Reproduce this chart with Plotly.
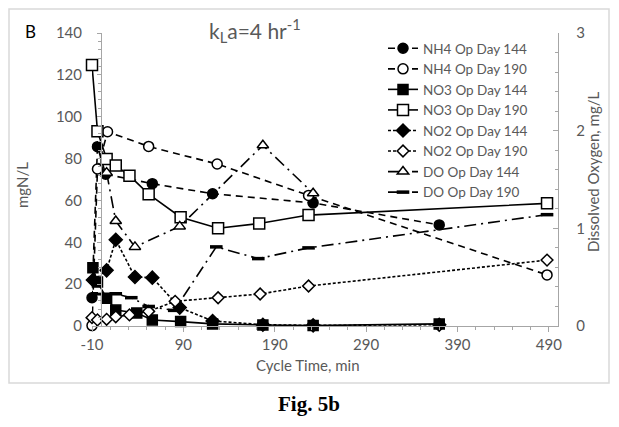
import plotly.graph_objects as go

# ---------------- data ----------------
nh4_144_t = [-10, -4, 5, 56, 122, 232, 370]
nh4_144_v = [13.5, 85.7, 72.5, 68.0, 63.2, 58.8, 48.3]

nh4_190_t = [-10, -4, 7, 52, 127, 227, 488]
nh4_190_v = [0.2, 75.0, 92.8, 85.8, 77.4, 62.4, 24.4]

no3_144_t = [-9, -4, 6, 16, 39, 56, 87, 122, 177, 232, 370]
no3_144_v = [27.8, 21.0, 13.3, 7.6, 6.2, 2.9, 2.1, 1.0, 0.5, 0.2, 1.0]

no3_190_t = [-10, -4, 6, 16, 31, 52, 87, 128, 173, 227, 488]
no3_190_v = [124.7, 93.0, 79.8, 76.7, 71.8, 63.0, 52.0, 46.7, 49.0, 53.0, 58.6]

no2_144_t = [-9, 6, 16, 37, 56, 86, 122, 177, 232, 370]
no2_144_v = [22.0, 26.6, 41.2, 23.4, 23.1, 8.8, 2.4, 0.6, 0.3, 0.6]

no2_190_t = [-10, -4, 6, 16, 31, 52, 81, 128, 174, 227, 488]
no2_190_v = [4.0, 2.9, 3.2, 4.4, 5.3, 7.0, 11.8, 13.5, 15.3, 19.1, 31.5]

do_144_t = [6, 16, 37, 86, 177, 232]
do_144_v = [1.57, 1.075, 0.81, 1.02, 1.85, 1.36]

do_190_t = [-4, 16, 33, 52, 80, 126, 172, 227, 488]
do_190_v = [0.33, 0.33, 0.29, 0.20, 0.16, 0.81, 0.69, 0.80, 1.14]

x_ticks = [-10, 90, 190, 290, 390, 490]
y_left_ticks = [0, 20, 40, 60, 80, 100, 120, 140]
y_right_ticks = [0, 1, 2, 3]

# ---------------- layout geometry ----------------
OFF = 8                      # page body margin of the html page
W, H = 619 - OFF, 427 - OFF
L, T = 92 - OFF, 33 - OFF
R = W - (558 - OFF)
B = H - (326 - OFF)
PW, PH = W - L - R, H - T - B


def px(xpix):
    return (xpix - OFF - L) / PW


def py(ypix):
    return (H - B - (ypix - OFF)) / PH


FONT = "Lato"
GREY = "#595959"
AXC = "#a6a6a6"
BLK = "black"

fig = go.Figure()


def add(name, t, v, symbol, dash, filled, size, yaxis="y", mline=1.5):
    fig.add_trace(go.Scatter(
        x=t, y=v, name=name, mode="lines+markers", yaxis=yaxis, cliponaxis=False,
        line=dict(color=BLK, width=1.6, dash=dash),
        marker=dict(symbol=symbol, size=size,
                    color=BLK if filled else "white",
                    line=dict(color=BLK, width=mline)),
    ))


DASH_NH4 = "7px,5px"
DASH_NO2 = "3px,2px"
DASH_DO = "12px,5px,2px,5px"

add("NH4 Op Day 144", nh4_144_t, nh4_144_v, "circle", DASH_NH4, True, 10)
add("NH4 Op Day 190", nh4_190_t, nh4_190_v, "circle", DASH_NH4, False, 10)
add("NO3 Op Day 144", no3_144_t, no3_144_v, "square", "solid", True, 10)
add("NO3 Op Day 190", no3_190_t, no3_190_v, "square", "solid", False, 11)
add("NO2 Op Day 144", no2_144_t, no2_144_v, "diamond", DASH_NO2, True, 10)
add("NO2 Op Day 190", no2_190_t, no2_190_v, "diamond", DASH_NO2, False, 9)
add("DO Op Day 144", do_144_t, do_144_v, "triangle-up", DASH_DO, False, 10, yaxis="y2")
add("DO Op Day 190", do_190_t, do_190_v, "line-ew", DASH_DO, False, 9, yaxis="y2", mline=3.5)

tickfont = dict(family=FONT, size=15, color=GREY)

fig.update_layout(
    width=W, height=H,
    margin=dict(l=L, r=R, t=T, b=B),
    paper_bgcolor="white", plot_bgcolor="white",
    font=dict(family=FONT, size=15, color=GREY),
    showlegend=True,
    legend=dict(x=px(383), y=py(33), xanchor="left", yanchor="top",
                bgcolor="rgba(0,0,0,0)", font=dict(family=FONT, size=13.5, color=GREY),
                tracegroupgap=0, itemwidth=30),
    xaxis=dict(range=[-10, 500], tickvals=x_ticks, ticktext=[str(v) for v in x_ticks],
               showgrid=False, zeroline=False, showline=True, linecolor=AXC, linewidth=1.3,
               ticks="outside", ticklen=5, tickcolor=AXC, tickfont=tickfont,
               minor=dict(tickvals=list(range(-10, 501, 20)), ticks="outside", ticklen=3, tickcolor=AXC),
               domain=[0, 1]),
    yaxis=dict(range=[0, 140], tickvals=y_left_ticks, showgrid=False, zeroline=False,
               showline=True, linecolor=AXC, linewidth=1.3,
               anchor="free", position=10 / 510,
               ticks="outside", ticklen=4, tickcolor=AXC, tickfont=tickfont,
               ticklabelstandoff=12,
               minor=dict(dtick=4, ticks="outside", ticklen=3, tickcolor=AXC)),
    yaxis3=dict(range=[0, 140], tickvals=y_left_ticks, overlaying="y", showgrid=False,
                zeroline=False, showline=False, showticklabels=False,
                anchor="free", position=10 / 510,
                ticks="inside", ticklen=4, tickcolor=AXC,
                minor=dict(dtick=4, ticks="inside", ticklen=3, tickcolor=AXC)),
    yaxis2=dict(range=[0, 3], tickvals=y_right_ticks, overlaying="y", side="right",
                anchor="x", showgrid=False, zeroline=False, showline=True,
                linecolor=AXC, linewidth=1.3, ticks="inside", ticklen=5, tickcolor=AXC,
                tickfont=tickfont, ticklabelstandoff=14,
                minor=dict(dtick=0.2, ticks="inside", ticklen=3, tickcolor=AXC)),
)

shapes = [dict(type="rect", xref="paper", yref="paper",
               x0=px(9), x1=px(609), y0=py(383), y1=py(9),
               line=dict(color="#d9d9d9", width=1.5), layer="below")]
fig.update_layout(shapes=shapes)

ann = [
    dict(text="B", x=px(31), y=py(32), font=dict(family=FONT, size=17, color=BLK)),
    dict(text="k<sub>L</sub>a=4 hr<sup>-1</sup>", x=px(255), y=py(31),
         font=dict(family=FONT, size=21, color=GREY)),
    dict(text="mgN/L", x=px(22), y=py(185), textangle=-90,
         font=dict(family=FONT, size=15, color=GREY)),
    dict(text="Dissolved Oxygen, mg/L", x=px(593), y=py(172), textangle=-90,
         font=dict(family=FONT, size=15, color=GREY)),
    dict(text="Cycle Time, min", x=px(308), y=py(365),
         font=dict(family=FONT, size=15, color=GREY)),
    dict(text="<b>Fig. 5b</b>", x=px(309), y=py(404),
         font=dict(family="Liberation Serif", size=21, color=BLK)),
]
for a in ann:
    a.update(xref="paper", yref="paper", showarrow=False, xanchor="center", yanchor="middle")
fig.update_layout(annotations=ann)

fig.write_html("out.html")
